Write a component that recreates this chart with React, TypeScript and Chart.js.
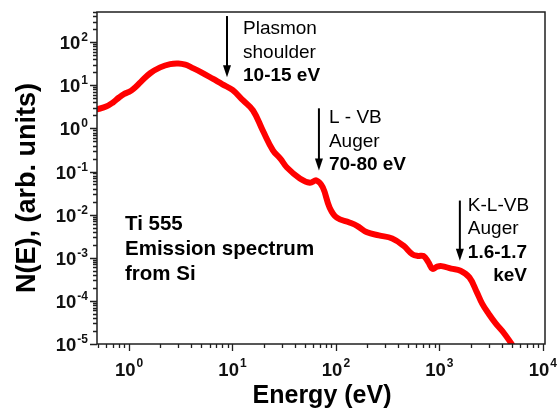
import React, { useEffect, useRef } from 'react';
import { Chart, registerables } from 'chart.js';

Chart.register(...registerables);

// ---- data ----
const energies = [
  0.5, 0.6, 0.7, 0.8, 0.9, 1.0, 1.1, 1.3, 1.6, 2.0, 2.5, 3.0, 3.5, 4.0, 5.0, 6.5, 8.0, 10, 12.6, 15.8,
  19.6, 24.6, 29, 33.6, 44.8, 56, 65, 74.6, 87, 102, 135, 160, 200, 260, 350, 450,
  550, 620, 700, 780, 860, 950, 1050, 1300, 1600, 1950, 2300, 2600, 3000, 3500, 4200, 5000,
];
const intensities = [
  2.8, 3.2, 4.0, 5.2, 6.3, 7.0, 8.2, 12, 19, 26, 31, 32, 30, 26, 20, 14, 10.5, 7.8, 4.5, 2.6,
  0.9, 0.31, 0.2, 0.124, 0.069, 0.055, 0.062, 0.043, 0.0145, 0.0085, 0.0066, 0.0055, 0.0039, 0.0033, 0.0028, 0.0019,
  0.0012, 0.0011, 0.0011, 0.0008, 0.00055, 0.00062, 0.00064, 0.00056, 0.0005, 0.00035, 0.00016, 0.000085, 0.00005, 0.00003, 0.000018, 0.00001,
];

const xExponents = [0, 1, 2, 3, 4];
const yExponents = [-5, -4, -3, -2, -1, 0, 1, 2];
const xMin = 0.49;
const xMax = 10500;
const yMin = 1e-5;
const yMax = 500;

// annotations: arrow energy, arrow start / tip intensity, text lines
const arrowEnergies = [8.85, 68.5, 1578];
const arrowStarts = [403, 2.92, 0.0212];
const arrowTips = [15.3, 0.105, 0.00085];
const annotationTexts = [
  ['Plasmon', 'shoulder', '10-15 eV'],
  ['L - VB', 'Auger', '70-80 eV'],
  ['K-L-VB', 'Auger', '1.6-1.7', 'keV'],
];
const insetText = ['Ti 555', 'Emission spectrum', 'from Si'];
const xTitle = 'Energy (eV)';
const yTitle = 'N(E), (arb. units)';

const FONT = '"Liberation Sans", Arial, Helvetica, sans-serif';

function isPow10(v: number) {
  const l = Math.log10(v);
  return Math.abs(l - Math.round(l)) < 1e-9;
}

function logTicks(min: number, max: number) {
  const out: { value: number }[] = [];
  for (let e = Math.floor(Math.log10(min)); e <= Math.ceil(Math.log10(max)); e++) {
    for (let m = 1; m <= 9; m++) {
      const v = m * Math.pow(10, e);
      if (v >= min * 0.9999 && v <= max * 1.0001) out.push({ value: v });
    }
  }
  return out;
}

const decorPlugin = {
  id: 'decor',
  afterDraw(chart: any) {
    const { ctx, chartArea: ca } = chart;
    const xs = chart.scales.x;
    const ys = chart.scales.y;
    ctx.save();

    // frame
    ctx.strokeStyle = '#1f1f1f';
    ctx.lineWidth = 1.5;
    ctx.strokeRect(ca.left, ca.top, ca.right - ca.left, ca.bottom - ca.top);

    // tick marks
    ctx.lineWidth = 1.3;
    ctx.beginPath();
    xs.ticks.forEach((t: any) => {
      const px = Math.round(xs.getPixelForValue(t.value)) + 0.5;
      const len = isPow10(t.value) ? 7 : 4;
      ctx.moveTo(px, ca.bottom);
      ctx.lineTo(px, ca.bottom + len);
    });
    ys.ticks.forEach((t: any) => {
      const py = Math.round(ys.getPixelForValue(t.value)) + 0.5;
      const len = isPow10(t.value) ? 7 : 4;
      ctx.moveTo(ca.left, py);
      ctx.lineTo(ca.left - len, py);
    });
    ctx.stroke();

    // tick labels 10^n
    ctx.fillStyle = '#111';
    ctx.textBaseline = 'alphabetic';
    const baseFont = `bold 18.5px ${FONT}`;
    const expFont = `bold 12px ${FONT}`;
    xExponents.forEach((e) => {
      const px = xs.getPixelForValue(Math.pow(10, e));
      ctx.font = baseFont;
      const wb = ctx.measureText('10').width;
      ctx.font = expFont;
      const we = ctx.measureText(String(e)).width;
      const left = px - (wb + we + 1) / 2;
      ctx.font = baseFont;
      ctx.textAlign = 'left';
      ctx.fillText('10', left, 376);
      ctx.font = expFont;
      ctx.fillText(String(e), left + wb + 1, 367);
    });
    yExponents.forEach((e) => {
      const py = ys.getPixelForValue(Math.pow(10, e));
      const right = ca.left - 9;
      ctx.font = expFont;
      const we = ctx.measureText(String(e)).width;
      ctx.font = baseFont;
      const wb = ctx.measureText('10').width;
      ctx.textAlign = 'left';
      ctx.fillText('10', right - we - 1 - wb, py + 7);
      ctx.font = expFont;
      ctx.fillText(String(e), right - we, py - 1);
    });

    // axis titles
    ctx.fillStyle = '#000';
    ctx.font = `bold 25px ${FONT}`;
    ctx.textAlign = 'center';
    ctx.fillText(xTitle, (ca.left + ca.right) / 2 + 1, 403);
    ctx.save();
    ctx.translate(35, (ca.top + ca.bottom) / 2 + 10);
    ctx.rotate(-Math.PI / 2);
    ctx.font = `bold 27px ${FONT}`;
    ctx.fillText(yTitle, 0, 0);
    ctx.restore();

    // arrows + annotation text
    const dxs = [16, 10, 8];
    const dys = [18, 15, 10];
    const lh = 23.5;
    arrowEnergies.forEach((en, i) => {
      const px = xs.getPixelForValue(en);
      const y0 = ys.getPixelForValue(arrowStarts[i]);
      const y1 = ys.getPixelForValue(arrowTips[i]);
      ctx.strokeStyle = '#000';
      ctx.fillStyle = '#000';
      ctx.lineWidth = 2;
      ctx.beginPath();
      ctx.moveTo(px, y0);
      ctx.lineTo(px, y1 - 8);
      ctx.stroke();
      ctx.beginPath();
      ctx.moveTo(px - 4, y1 - 12);
      ctx.lineTo(px + 4, y1 - 12);
      ctx.lineTo(px, y1);
      ctx.closePath();
      ctx.fill();

      const lines = annotationTexts[i];
      const tx = px + dxs[i];
      let rightOfBold = 0;
      lines.forEach((s, j) => {
        const bold = j >= 2;
        ctx.font = `${bold ? 'bold ' : ''}19px ${FONT}`;
        const by = y0 + dys[i] + j * lh;
        if (j === 3) {
          ctx.textAlign = 'right';
          ctx.fillText(s, rightOfBold, by);
        } else {
          ctx.textAlign = 'left';
          ctx.fillText(s, tx, by);
          if (j === 2) rightOfBold = tx + ctx.measureText(s).width;
        }
      });
    });

    // inset text
    ctx.font = `bold 20.5px ${FONT}`;
    ctx.textAlign = 'left';
    insetText.forEach((s, j) => {
      ctx.fillText(s, ca.left + 28, 230 + j * 25);
    });

    ctx.restore();
  },
};

export default function App() {
  const canvasRef = useRef<HTMLCanvasElement | null>(null);

  useEffect(() => {
    const canvas = canvasRef.current;
    if (!canvas) return;
    const chart = new Chart(canvas, {
      type: 'scatter',
      data: {
        datasets: [
          {
            data: energies.map((e, i) => ({ x: e, y: intensities[i] })),
            showLine: true,
            borderColor: '#ff0000',
            backgroundColor: '#ff0000',
            borderWidth: 6,
            pointRadius: 0,
            tension: 0.4,
            borderCapStyle: 'round',
            borderJoinStyle: 'round',
          } as any,
        ],
      },
      options: {
        animation: false,
        responsive: true,
        maintainAspectRatio: false,
        layout: { padding: { left: 97, top: 12, right: 12, bottom: 70 } },
        plugins: { legend: { display: false }, tooltip: { enabled: false } },
        scales: {
          x: {
            type: 'logarithmic',
            min: xMin,
            max: xMax,
            grid: { display: false },
            border: { display: false },
            ticks: { display: false },
            afterBuildTicks: (axis: any) => {
              axis.ticks = logTicks(xMin, xMax);
            },
            afterFit: (axis: any) => {
              axis.height = 0;
            },
          },
          y: {
            type: 'logarithmic',
            min: yMin,
            max: yMax,
            grid: { display: false },
            border: { display: false },
            ticks: { display: false },
            afterBuildTicks: (axis: any) => {
              axis.ticks = logTicks(yMin, yMax);
            },
            afterFit: (axis: any) => {
              axis.width = 0;
            },
          },
        },
      },
      plugins: [decorPlugin],
    });
    return () => chart.destroy();
  }, []);

  return (
    <div style={{ position: 'absolute', left: 0, top: 0, width: 557, height: 414, background: '#fff' }}>
      <canvas ref={canvasRef} />
    </div>
  );
}
